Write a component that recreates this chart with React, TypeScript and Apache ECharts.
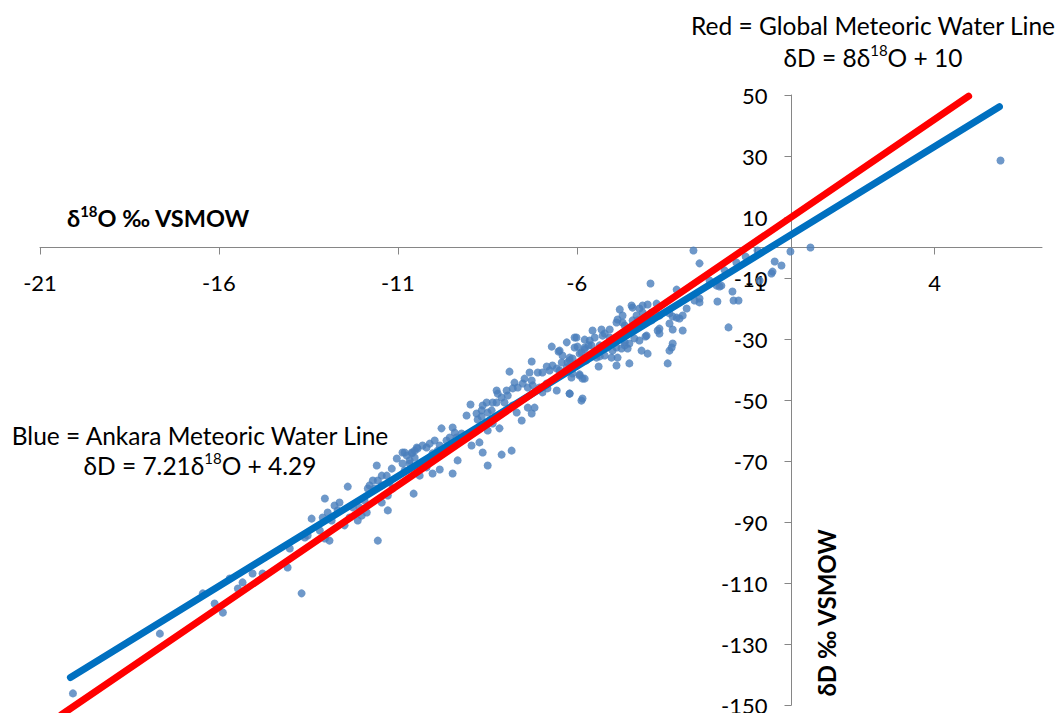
import React, { useEffect, useRef } from 'react';
import * as echarts from 'echarts';

const xTickValues = [-21, -16, -11, -6, -1, 4];
const yMin = -150;
const yMax = 50;
const yStep = 20;
const xMin = -21;
const xMax = 7;

const samplesNearZero: number[][] = [
  [5.84, 28.5], [0.53, 0], [-0.03, -1.3], [-2.74, -1.0], [-2.57, -5.2], [-0.47, -4.6], [-0.28, -5.9],
  [-0.53, -7.9], [-0.56, -8.5], [-0.95, -1.0], [-1.28, -3.0], [-1.54, -4.9], [-0.89, -10.8], [-2.01, -12.8],
  [-1.65, -14.4], [-1.62, -17.4], [-1.48, -17.4], [-2.07, -17.7], [-2.57, -16.7], [-2.57, -18.0], [-1.76, -26.2],
  [-3.94, -11.8], [-3.21, -13.8], [-2.93, -20.0], [-3.04, -22.3], [-3.21, -23.0], [-3.32, -22.6], [-3.04, -27.2],
  [-3.32, -26.9], [-3.69, -28.2], [-3.74, -27.2], [-4.08, -29.2], [-3.32, -31.5], [-3.35, -32.8], [-4.16, -19.0],
  [-4.02, -18.7], [-3.77, -18.4], [-3.46, -38.0], [-2.09, -12.5], [-1.96, -12.5], [-2.71, -17.4], [-3.13, -23.3],
  [-1.87, -7.5], [-2.29, -10.8],
];

const samplesUpperBand: number[][] = [
  [-4.25, -20.0], [-4.44, -19.7], [-4.47, -19.0], [-4.80, -20.3], [-3.91, -21.3], [-4.11, -23.0], [-4.33, -22.3],
  [-4.44, -23.9], [-4.30, -23.9], [-4.72, -24.6], [-4.89, -24.6], [-4.66, -25.6], [-4.58, -26.6], [-4.05, -28.9],
  [-4.25, -30.5], [-4.39, -29.8], [-4.53, -31.5], [-4.66, -31.1], [-4.58, -33.1], [-4.19, -33.8], [-4.02, -34.8],
  [-5.08, -26.9], [-5.31, -26.9], [-5.56, -27.2], [-5.22, -28.2], [-5.50, -29.5], [-5.64, -30.5], [-5.78, -30.2],
  [-5.59, -32.1], [-5.36, -32.1], [-5.14, -32.8], [-4.89, -32.8], [-4.75, -33.1], [-5.00, -33.8], [-4.66, -32.1],
  [-4.86, -36.1], [-5.03, -36.1], [-5.22, -35.4], [-5.36, -35.7], [-5.45, -36.1], [-4.53, -38.0], [-4.89, -38.7],
  [-5.39, -39.0], [-6.01, -29.5], [-6.06, -32.8], [-5.78, -33.4], [-5.92, -34.8], [-6.12, -36.4], [-6.20, -37.0],
  [-6.01, -38.7], [-5.92, -41.6], [-5.78, -43.0], [-6.20, -47.9], [-5.84, -49.5],
  [-6.48, -33.8], [-5.87, -34.4], [-5.73, -37.0], [-5.28, -28.9], [-5.08, -29.5], [-4.86, -23.6], [-4.72, -22.3],
  [-4.16, -21.3], [-3.91, -23.9], [-4.02, -22.3], [-3.69, -22.3], [-3.41, -21.6], [-3.41, -24.9], [-3.69, -26.6],
  [-3.41, -33.8],
];

const samplesMiddle: number[][] = [
  [-6.70, -32.5], [-6.28, -31.1], [-6.06, -29.5], [-5.98, -32.5], [-5.78, -32.8], [-5.67, -32.1], [-6.51, -34.1],
  [-6.40, -35.4], [-6.20, -36.1], [-6.26, -37.7], [-6.42, -37.7], [-7.26, -37.4], [-6.84, -39.0], [-6.68, -38.7],
  [-6.56, -39.7], [-6.76, -40.3], [-6.96, -41.0], [-7.09, -41.0], [-6.48, -40.3], [-6.28, -39.3], [-6.12, -41.3],
  [-5.92, -42.0], [-5.84, -43.0], [-6.15, -42.6], [-7.32, -41.0], [-7.26, -43.6], [-7.46, -43.0], [-7.51, -44.6],
  [-7.37, -45.9], [-7.23, -45.2], [-7.04, -45.9], [-6.84, -44.6], [-7.88, -40.7], [-7.74, -44.3], [-7.65, -45.9],
  [-7.79, -46.2], [-7.96, -46.9], [-6.96, -47.5], [-6.82, -46.2], [-6.56, -46.9], [-6.20, -47.9], [-5.87, -50.2],
  [-8.24, -46.9], [-8.21, -47.9], [-8.10, -49.2], [-7.93, -48.5], [-8.02, -50.8], [-8.24, -50.8], [-8.35, -50.8],
  [-8.52, -50.8], [-8.63, -51.8], [-8.66, -53.4], [-8.49, -54.1], [-8.38, -53.4], [-8.97, -51.5], [-9.08, -55.1],
  [-8.80, -54.4], [-8.66, -55.4], [-8.77, -56.4], [-7.79, -51.8], [-7.68, -54.1], [-7.54, -56.7], [-7.37, -52.5],
  [-7.18, -52.5], [-7.26, -54.4], [-8.16, -59.3], [-8.35, -57.7], [-8.49, -60.0], [-9.47, -59.0], [-9.41, -60.7],
  [-9.22, -61.0], [-9.36, -62.3], [-9.55, -62.3], [-9.64, -63.3], [-9.78, -59.3], [-9.97, -63.3], [-10.11, -64.3],
  [-10.20, -65.6], [-10.31, -64.9], [-10.45, -65.9], [-10.53, -66.6], [-10.61, -67.5], [-10.75, -68.2],
  [-10.87, -67.2], [-9.83, -64.9], [-9.89, -66.6], [-10.03, -67.5], [-10.11, -68.9], [-9.92, -68.9], [-8.94, -64.9],
  [-8.72, -63.9], [-8.63, -67.2], [-8.10, -67.9], [-7.82, -66.6], [-8.49, -71.5], [-9.47, -74.1], [-9.33, -69.8],
  [-9.83, -72.8], [-10.03, -74.1], [-10.20, -72.1], [-10.39, -74.8], [-10.67, -70.8], [-10.81, -73.1],
];

const samplesLower: number[][] = [
  [-10.47, -65.6], [-10.61, -67.2], [-10.81, -67.2], [-11.03, -69.2], [-10.87, -70.8], [-10.67, -69.8],
  [-10.53, -68.9], [-11.59, -71.5], [-11.17, -72.5], [-11.31, -74.8], [-11.45, -74.8], [-11.56, -76.4],
  [-11.70, -76.4], [-11.79, -78.0], [-11.84, -79.0], [-11.65, -79.0], [-11.45, -78.0], [-11.23, -77.0],
  [-11.15, -79.0], [-11.28, -81.3], [-11.45, -83.6], [-11.28, -86.2], [-11.56, -96.1], [-10.56, -80.7],
  [-12.40, -78.4], [-13.04, -82.3], [-12.77, -84.6], [-12.63, -83.6], [-12.68, -86.2], [-12.96, -86.9],
  [-13.10, -88.5], [-12.85, -89.5], [-12.49, -91.1], [-12.35, -88.5], [-12.12, -89.5], [-12.01, -87.9],
  [-11.87, -86.9], [-11.93, -83.0], [-12.07, -85.2], [-12.26, -85.2], [-13.41, -88.9], [-13.52, -94.4],
  [-13.60, -95.1], [-13.18, -92.8], [-12.91, -96.1], [-13.04, -95.4], [-14.02, -98.7], [-14.08, -104.9],
  [-20.08, -146.2], [-17.65, -126.6], [-16.45, -113.4], [-16.12, -116.7], [-15.89, -119.7], [-15.70, -108.5],
  [-15.47, -111.8], [-15.34, -109.8], [-15.06, -106.9], [-14.78, -106.9], [-13.69, -113.4],
];

const observations = [...samplesNearZero, ...samplesUpperBand, ...samplesMiddle, ...samplesLower];

// Meteoric water line end points
const gmwlLine: number[][] = [[-20.4, -153.2], [4.95, 49.6]];
const amwlLine: number[][] = [[-20.15, -140.99], [5.81, 46.18]];

const FONT = 'Lato, "Liberation Sans", sans-serif';

const GRID_LEFT = 40;
const GRID_RIGHT = 17;
const GRID_TOP = 95;
const GRID_BOTTOM = 8;
const W = 1059;
const H = 713;

export default function App() {
  const ref = useRef<HTMLDivElement>(null);
  useEffect(() => {
    if (!ref.current) return;
    const chart = echarts.init(ref.current, undefined, { renderer: 'svg' });
    const gridW = W - GRID_LEFT - GRID_RIGHT;
    const gridH = H - GRID_TOP - GRID_BOTTOM;
    // shift axes so that they cross at zero
    const yAxisOffset = -((0 - xMin) / (xMax - xMin)) * gridW;
    const xAxisOffset = -((0 - yMin) / (yMax - yMin)) * gridH;
    const sup = { fontSize: 15, lineHeight: 17, verticalAlign: 'top', fontFamily: FONT, fill: '#000' };
    const norm = (size: number, weight: string) => ({ fontSize: size, lineHeight: 30, fontFamily: FONT, fontWeight: weight, fill: '#000' });
    chart.setOption({
      animation: false,
      textStyle: { fontFamily: FONT },
      grid: { left: GRID_LEFT, right: GRID_RIGHT, top: GRID_TOP, bottom: GRID_BOTTOM, containLabel: false, outerBoundsMode: 'none' },
      xAxis: {
        type: 'value',
        min: xMin,
        max: xMax,
        interval: 5,
        offset: xAxisOffset,
        axisLine: { onZero: false, lineStyle: { color: '#868686', width: 1 } },
        axisTick: { show: true, length: 7, lineStyle: { color: '#868686' }, customValues: xTickValues },
        axisLabel: { customValues: xTickValues, fontSize: 22, color: '#000', margin: 24, fontFamily: FONT },
        splitLine: { show: false },
      },
      yAxis: {
        type: 'value',
        min: yMin,
        max: yMax,
        interval: yStep,
        offset: yAxisOffset,
        axisLine: { onZero: false, lineStyle: { color: '#868686', width: 1 } },
        axisTick: { show: true, length: 7, lineStyle: { color: '#868686' } },
        axisLabel: { fontSize: 22, color: '#000', margin: 24, fontFamily: FONT },
        splitLine: { show: false },
      },
      series: [
        {
          type: 'scatter',
          data: observations,
          symbol: 'circle',
          symbolSize: 8,
          itemStyle: { color: '#4a7ebb' },
          z: 2,
        },
        {
          type: 'line',
          data: amwlLine,
          symbol: 'none',
          lineStyle: { color: '#0070c0', width: 7, cap: 'round' },
          z: 3,
        },
        {
          type: 'line',
          data: gmwlLine,
          symbol: 'none',
          clip: false,
          lineStyle: { color: '#ff0000', width: 7, cap: 'round' },
          z: 4,
        },
      ],
      graphic: [
        {
          type: 'text', x: 873, y: 25, z: 10,
          style: { text: 'Red = Global Meteoric Water Line', font: `24.5px ${FONT}`, fill: '#000', align: 'center', verticalAlign: 'middle' },
        },
        {
          type: 'text', x: 873, y: 57, z: 10,
          style: {
            text: '{n|δD = 8δ}{s|18}{n|O + 10}', align: 'center', verticalAlign: 'middle',
            rich: { n: norm(24.5, 'normal'), s: sup },
          },
        },
        {
          type: 'text', x: 200, y: 435, z: 10,
          style: { text: 'Blue = Ankara Meteoric Water Line', font: `24.5px ${FONT}`, fill: '#000', align: 'center', verticalAlign: 'middle' },
        },
        {
          type: 'text', x: 200, y: 465, z: 10,
          style: {
            text: '{n|δD = 7.21δ}{s|18}{n|O + 4.29}', align: 'center', verticalAlign: 'middle',
            rich: { n: norm(24.5, 'normal'), s: sup },
          },
        },
        {
          type: 'text', x: 67, y: 218, z: 10,
          style: {
            text: '{n|δ}{s|18}{n|O ‰ VSMOW}', align: 'left', verticalAlign: 'middle',
            rich: { n: norm(23.5, 'bold'), s: { ...sup, fontWeight: 'bold' } },
          },
        },
        {
          type: 'text', x: 826, y: 613, z: 10, rotation: Math.PI / 2,
          style: {
            text: 'δD ‰ VSMOW', font: `bold 24px ${FONT}`, fill: '#000', align: 'center', verticalAlign: 'middle',
          },
        },
      ],
    });
    return () => chart.dispose();
  }, []);
  return (
    <div
      ref={ref}
      style={{ position: 'fixed', left: 0, top: 0, width: W, height: H, background: '#fff' }}
    />
  );
}
